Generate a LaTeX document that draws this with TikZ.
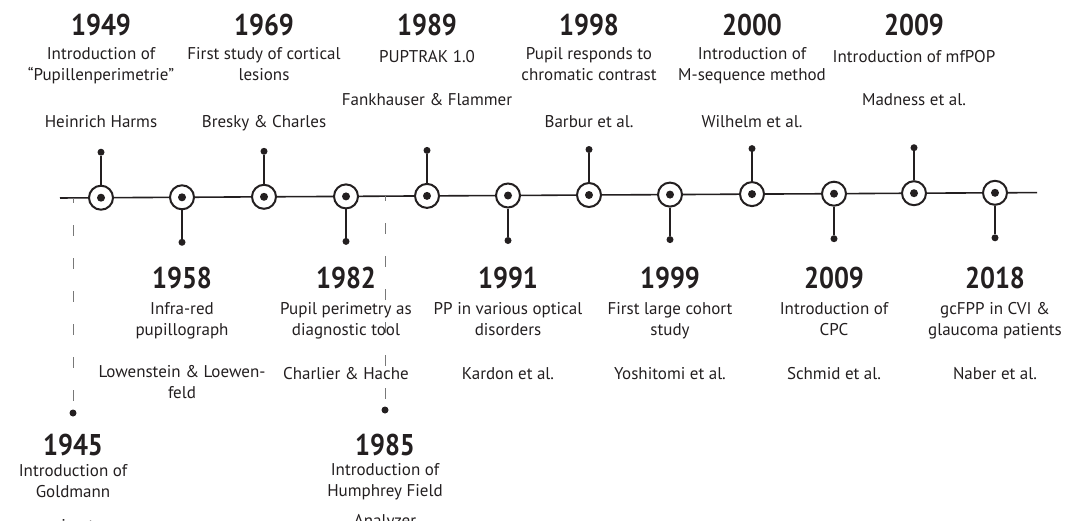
\documentclass[tikz,border=0pt]{standalone}
\usepackage{fontspec}
\setmainfont{PT Sans}
\newfontfamily\yearfont{PT Sans}[FakeStretch=0.88]
\definecolor{tlink}{RGB}{35,31,32}
\definecolor{tlgray}{RGB}{120,120,120}

\begin{document}
\begin{tikzpicture}[x=1pt, y=-1pt,
  evt/.style={circle, draw=tlink, line width=2pt, fill=white,
    minimum size=24pt, inner sep=0pt,
    path picture={\fill[tlink] (path picture bounding box.center) circle (4pt);}},
  pin/.style={circle, fill=tlink, minimum size=7pt, inner sep=0pt},
  stem/.style={line width=1.8pt, tlink},
  guide/.style={line width=1pt, tlgray, dash pattern=on 11pt off 22pt, dash phase=6pt},
  yr/.style={font=\yearfont\bfseries\fontsize{30}{30}\selectfont, text=tlink,
    inner sep=0pt, anchor=base},
  txt/.style={font=\fontsize{17}{21}\selectfont, align=center, text=tlink,
    inner sep=0pt, anchor=north, execute at begin node=\strut}]
\path[use as bounding box] (0,0) rectangle (1089,520);
\clip (0,0) rectangle (1089,520);
% Events on the time line
\node[evt] (e1949) at (101,197.7) {};
\node[evt] (e1958) at (182,197.3) {};
\node[evt] (e1969) at (264,196.8) {};
\node[evt] (e1982) at (346,196.4) {};
\node[evt] (e1989) at (427,195.9) {};
\node[evt] (e1991) at (508,195.5) {};
\node[evt] (e1998) at (589,195.0) {};
\node[evt] (e1999) at (670,194.6) {};
\node[evt] (e2000) at (752,194.1) {};
\node[evt] (e2009c) at (834,193.7) {};
\node[evt] (e2009m) at (914,193.2) {};
\node[evt] (e2018) at (995,192.8) {};
\coordinate (tlstart) at (60,198);
\coordinate (tlend) at (1037,192.6);
\draw[line width=1.6pt, tlink] (tlstart) -- (e1949) -- (e1958) -- (e1969) -- (e1982)
  -- (e1989) -- (e1991) -- (e1998) -- (e1999) -- (e2000) -- (e2009c) -- (e2009m)
  -- (e2018) -- (tlend);
% Pins
\node[pin] (p1949) at (101,152.2) {};
\node[pin] (p1969) at (264,151.3) {};
\node[pin] (p1989) at (427,150.4) {};
\node[pin] (p1998) at (589,149.5) {};
\node[pin] (p2000) at (752,148.6) {};
\node[pin] (p2009m) at (914,147.7) {};
\node[pin] (p1958) at (182,242.3) {};
\node[pin] (p1982) at (346,241.4) {};
\node[pin] (p1991) at (508,240.5) {};
\node[pin] (p1999) at (670,239.6) {};
\node[pin] (p2009c) at (834,238.7) {};
\node[pin] (p2018) at (995,237.8) {};
\draw[stem] (e1949) -- (p1949);
\draw[stem] (e1969) -- (p1969);
\draw[stem] (e1989) -- (p1989);
\draw[stem] (e1998) -- (p1998);
\draw[stem] (e2000) -- (p2000);
\draw[stem] (e2009m) -- (p2009m);
\draw[stem] (e1958) -- (p1958);
\draw[stem] (e1982) -- (p1982);
\draw[stem] (e1991) -- (p1991);
\draw[stem] (e1999) -- (p1999);
\draw[stem] (e2009c) -- (p2009c);
\draw[stem] (e2018) -- (p2018);
% Perimeters (dashed)
\coordinate (g1945) at (73,198);
\coordinate (g1985) at (385,196.1);
\node[pin] (p1945) at (73,413) {};
\node[pin] (p1985) at (385,410) {};
\draw[guide] (g1945) -- (p1945);
\draw[guide] (g1985) -- (p1985);
% Labels above
\node[yr] (y1949) at (101,35.5) {1949};
\node[txt] (t1949) at (101,47.3) {Introduction of\\“Pupillenperimetrie”};
\node[txt] (a1949) at (101,112.3) {Heinrich Harms};
\node[yr] (y1969) at (264,35.5) {1969};
\node[txt] (t1969) at (264,47.3) {First study of cortical\\lesions};
\node[txt] (a1969) at (264,112.3) {Bresky \& Charles};
\node[yr] (y1989) at (427,35.5) {1989};
\node[txt] (t1989) at (427,47.3) {PUPTRAK 1.0};
\node[txt] (a1989) at (427,90.3) {Fankhauser \& Flammer};
\node[yr] (y1998) at (589,35.5) {1998};
\node[txt] (t1998) at (589,47.3) {Pupil responds to\\chromatic contrast};
\node[txt] (a1998) at (589,112.3) {Barbur et al.};
\node[yr] (y2000) at (752,35.5) {2000};
\node[txt] (t2000) at (752,47.3) {Introduction of\\M-sequence method};
\node[txt] (a2000) at (752,112.3) {Wilhelm et al.};
\node[yr] (y2009m) at (914,35.5) {2009};
\node[txt] (t2009m) at (914,47.3) {Introduction of mfPOP};
\node[txt] (a2009m) at (914,90.3) {Madness et al.};
% Labels below
\node[yr] (y1958) at (182,288) {1958};
\node[txt] (t1958) at (182,302.6) {Infra-red\\pupillograph};
\node[txt] (a1958) at (182,365) {Lowenstein \& Loewen-\\feld};
\node[yr] (y1982) at (346,288) {1982};
\node[txt] (t1982) at (346,302.6) {Pupil perimetry as\\diagnostic tool};
\node[txt] (a1982) at (346,365) {Charlier \& Hache};
\node[yr] (y1991) at (508,288) {1991};
\node[txt] (t1991) at (508,302.6) {PP in various optical\\disorders};
\node[txt] (a1991) at (508,365) {Kardon et al.};
\node[yr] (y1999) at (670,288) {1999};
\node[txt] (t1999) at (670,302.6) {First large cohort\\study};
\node[txt] (a1999) at (670,365) {Yoshitomi et al.};
\node[yr] (y2009c) at (834,288) {2009};
\node[txt] (t2009c) at (834,302.6) {Introduction of\\CPC};
\node[txt] (a2009c) at (834,365) {Schmid et al.};
\node[yr] (y2018) at (995,288) {2018};
\node[txt] (t2018) at (995,302.6) {gcFPP in CVI \&\\glaucoma patients};
\node[txt] (a2018) at (995,365) {Naber et al.};
% Perimeter labels
\node[yr] (y1945) at (73,455) {1945};
\node[txt] (t1945) at (73,464) {Introduction of\\Goldmann\\[13pt]perimeter};
\node[yr] (y1985) at (385,455) {1985};
\node[txt] (t1985) at (385,463) {Introduction of\\Humphrey Field\\[9pt]Analyzer};
\end{tikzpicture}
\end{document}
